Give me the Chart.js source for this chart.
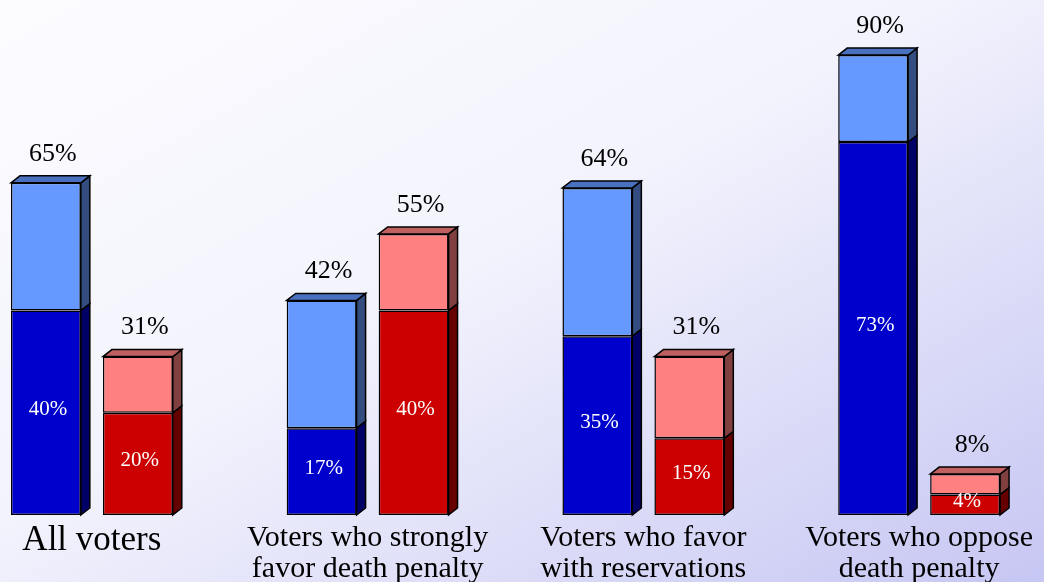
<html lang="en">
<head>
    <meta charset="UTF-8">
    <title>Death Penalty Voters</title>
<style>
    html, body {
        margin: 0;
        width: 1044px;
        height: 582px;
        overflow: hidden;
    }

    body {
        background: linear-gradient(to bottom right, #fcfcff 0%, #f3f3fd 45%, #c6c6f3 100%);
        position: relative;
    }

    #wrap {
        position: absolute;
        left: -46px;
        top: 0;
        width: 1103px;
        height: 582px;
    }
</style>
</head>
<body>
    <div id="wrap">
        <canvas id="voterChart" width="1103" height="582"></canvas>
    </div>

    <script src="https://cdn.jsdelivr.net/npm/chart.js"></script>

    <script>
        // Categories (multi-line tick labels)
        const categories = [
            "All voters",
            ["Voters who strongly", "favor death penalty"],
            ["Voters who favor", "with reservations"],
            ["Voters who oppose", "death penalty"]
        ];

        // Blue series: total and the darker inner part
        const blueTotal = [65, 42, 64, 90];
        const blueInner = [40, 17, 35, 73];

        // Red series: total and the darker inner part
        const redTotal = [31, 55, 31, 8];
        const redInner = [20, 40, 15, 4];

        const blueUpper = blueTotal.map((t, i) => t - blueInner[i]);
        const redUpper = redTotal.map((t, i) => t - redInner[i]);

        const DX = 9, DY = 7;

        // side and top faces for the 3D look, plus value labels
        const boxes3d = {
            id: 'boxes3d',
            afterDatasetsDraw(chart) {
                const c = chart.ctx;
                c.save();
                c.lineWidth = 1.5;
                c.strokeStyle = '#000';
                c.lineJoin = 'miter';
                chart.data.datasets.forEach((ds, di) => {
                    const meta = chart.getDatasetMeta(di);
                    meta.data.forEach((bar, i) => {
                        const p = bar.getProps(['x', 'y', 'base', 'width'], true);
                        const l = p.x - p.width / 2, r = p.x + p.width / 2;
                        // side
                        c.fillStyle = ds.sideColor;
                        c.beginPath();
                        c.moveTo(r, p.y);
                        c.lineTo(r + DX, p.y - DY);
                        c.lineTo(r + DX, p.base - DY);
                        c.lineTo(r, p.base);
                        c.closePath();
                        c.fill();
                        c.stroke();
                        // top only on the upper part
                        if (ds.topColor) {
                            c.fillStyle = ds.topColor;
                            c.beginPath();
                            c.moveTo(l, p.y);
                            c.lineTo(l + DX, p.y - DY);
                            c.lineTo(r + DX, p.y - DY);
                            c.lineTo(r, p.y);
                            c.closePath();
                            c.fill();
                            c.stroke();
                        }
                    });
                });

                // labels
                c.textAlign = 'center';
                c.textBaseline = 'middle';
                chart.data.datasets.forEach((ds, di) => {
                    const meta = chart.getDatasetMeta(di);
                    meta.data.forEach((bar, i) => {
                        const p = bar.getProps(['x', 'y', 'base'], true);
                        if (ds.inner) {
                            c.fillStyle = '#fff';
                            c.font = '21px "Liberation Serif", serif';
                            c.fillText(ds.data[i] + '%', p.x + 2, (p.y + p.base) / 2 - 3);
                        } else {
                            c.fillStyle = '#000';
                            c.font = '26px "Liberation Serif", serif';
                            c.fillText(ds.totals[i] + '%', p.x + 7, p.y - 29);
                        }
                    });
                });
                c.restore();
            }
        };

        const ctx = document.getElementById('voterChart').getContext('2d');

        new Chart(ctx, {
            type: 'bar',
            data: {
                labels: categories,
                datasets: [
                    {
                        data: blueInner, stack: 'blue', inner: true,
                        backgroundColor: '#0000cc', sideColor: '#000066'
                    },
                    {
                        data: blueUpper, stack: 'blue', totals: blueTotal,
                        backgroundColor: '#6699ff', sideColor: '#334d80', topColor: '#4a70c0'
                    },
                    {
                        data: redInner, stack: 'red', inner: true,
                        backgroundColor: '#cc0000', sideColor: '#660000'
                    },
                    {
                        data: redUpper, stack: 'red', totals: redTotal,
                        backgroundColor: '#ff8080', sideColor: '#804040', topColor: '#c06060'
                    }
                ]
            },
            options: {
                responsive: false,
                animation: false,
                datasets: {
                    bar: {
                        borderColor: '#000',
                        borderWidth: 1.5,
                        borderSkipped: false,
                        barPercentage: 0.76,
                        categoryPercentage: 0.667
                    }
                },
                layout: { padding: { top: 4, left: 0, right: 0, bottom: 0 } },
                scales: {
                    x: {
                        stacked: true,
                        grid: { display: false, drawTicks: false },
                        border: { display: false },
                        afterFit(scale) { scale.height = 67; },
                        ticks: {
                            color: '#000',
                            autoSkip: false,
                            maxRotation: 0,
                            padding: 8,
                            font: (c) => c.index === 0
                                ? { family: '"Liberation Serif", serif', size: 35, lineHeight: 1.0 }
                                : { family: '"Liberation Serif", serif', size: 30, lineHeight: 1.03 }
                        }
                    },
                    y: {
                        stacked: true,
                        display: false,
                        min: 0,
                        max: 100
                    }
                },
                plugins: {
                    legend: { display: false },
                    tooltip: { enabled: false }
                }
            },
            plugins: [boxes3d]
        });
    </script>
</body>
</html>
